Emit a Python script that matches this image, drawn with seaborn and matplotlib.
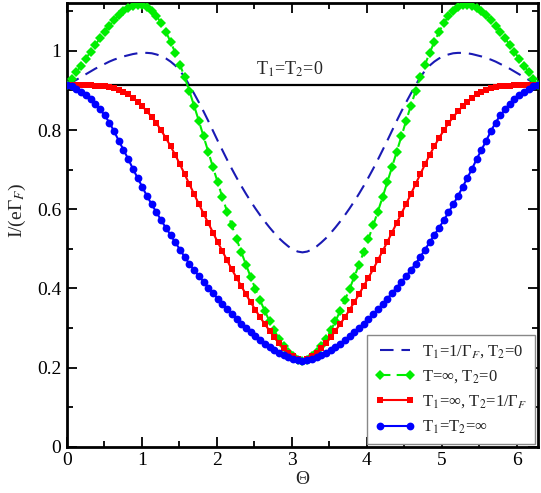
import numpy as np
import pandas as pd
import matplotlib
matplotlib.use("Agg")
import matplotlib.pyplot as plt
from matplotlib.ticker import MultipleLocator, FixedLocator
import seaborn as sns

# ---------------- data ----------------
theta_max = 2 * np.pi

zero_T_level = 0.913          # T1=T2=0 (horizontal line)

I_T1_inv_T2_0 = [  # dashed blue: T1=1/Gamma_F, T2=0
    0.913, 0.920, 0.927, 0.934, 0.941, 0.948, 0.955, 0.961, 0.967, 0.973,
    0.978, 0.982, 0.986, 0.989, 0.992, 0.994, 0.995, 0.995, 0.994, 0.991,
    0.987, 0.981, 0.973, 0.963, 0.950, 0.933, 0.913, 0.892, 0.870, 0.847,
    0.823, 0.798, 0.773, 0.749, 0.725, 0.702, 0.680, 0.659, 0.639, 0.620,
    0.602, 0.585, 0.569, 0.554, 0.540, 0.527, 0.516, 0.506, 0.498, 0.493,
    0.491,
    0.493, 0.498, 0.506, 0.516, 0.527, 0.540, 0.554, 0.569, 0.585, 0.602,
    0.620, 0.639, 0.659, 0.680, 0.702, 0.725, 0.749, 0.773, 0.798, 0.823,
    0.847, 0.870, 0.892, 0.913, 0.933, 0.950, 0.963, 0.973, 0.981, 0.987,
    0.991, 0.994, 0.995, 0.995, 0.994, 0.992, 0.989, 0.986, 0.982, 0.978,
    0.973, 0.967, 0.961, 0.955, 0.948, 0.941, 0.934, 0.927, 0.920, 0.913,
]

I_Tinf_T2_0 = [  # green diamonds: T=inf, T2=0
    0.913, 0.929, 0.946, 0.963, 0.980, 0.998, 1.015, 1.032, 1.049, 1.064,
    1.078, 1.090, 1.100, 1.108, 1.114, 1.117, 1.116, 1.111, 1.102, 1.088,
    1.070, 1.048, 1.023, 0.995, 0.965, 0.933, 0.898, 0.861, 0.823, 0.784,
    0.745, 0.706, 0.668, 0.630, 0.594, 0.559, 0.525, 0.492, 0.460, 0.429,
    0.399, 0.370, 0.343, 0.317, 0.294, 0.273, 0.255, 0.240, 0.229, 0.220,
    0.217,
    0.220, 0.229, 0.240, 0.255, 0.273, 0.294, 0.317, 0.343, 0.370, 0.399,
    0.429, 0.460, 0.492, 0.525, 0.559, 0.594, 0.630, 0.668, 0.706, 0.745,
    0.784, 0.823, 0.861, 0.898, 0.933, 0.965, 0.995, 1.023, 1.048, 1.070,
    1.088, 1.102, 1.111, 1.116, 1.117, 1.114, 1.108, 1.100, 1.090, 1.078,
    1.064, 1.049, 1.032, 1.015, 0.998, 0.980, 0.963, 0.946, 0.929, 0.913,
]

I_T1inf_T2_inv = [  # red squares: T1=inf, T2=1/Gamma_F
    0.913, 0.913, 0.913, 0.913, 0.913, 0.913, 0.912, 0.912, 0.911, 0.909,
    0.906, 0.902, 0.897, 0.891, 0.882, 0.871, 0.860, 0.847, 0.833, 0.817,
    0.799, 0.780, 0.759, 0.737, 0.713, 0.688, 0.663, 0.638, 0.613, 0.589,
    0.565, 0.541, 0.517, 0.494, 0.471, 0.448, 0.427, 0.406, 0.385, 0.365,
    0.346, 0.327, 0.310, 0.293, 0.277, 0.262, 0.249, 0.237, 0.228, 0.221,
    0.217,
    0.221, 0.228, 0.237, 0.249, 0.262, 0.277, 0.293, 0.310, 0.327, 0.346,
    0.365, 0.385, 0.406, 0.427, 0.448, 0.471, 0.494, 0.517, 0.541, 0.565,
    0.589, 0.613, 0.638, 0.663, 0.688, 0.713, 0.737, 0.759, 0.780, 0.799,
    0.817, 0.833, 0.847, 0.860, 0.871, 0.882, 0.891, 0.897, 0.902, 0.906,
    0.909, 0.911, 0.912, 0.912, 0.913, 0.913, 0.913, 0.913, 0.913, 0.913,
]

I_T1T2_inf = [  # blue circles: T1=T2=inf
    0.913, 0.911, 0.905, 0.897, 0.888, 0.878, 0.867, 0.852, 0.837, 0.819,
    0.797, 0.773, 0.750, 0.727, 0.702, 0.679, 0.656, 0.633, 0.612, 0.592,
    0.572, 0.553, 0.535, 0.516, 0.498, 0.479, 0.462, 0.446, 0.431, 0.417,
    0.402, 0.388, 0.374, 0.360, 0.347, 0.335, 0.323, 0.311, 0.300, 0.289,
    0.279, 0.269, 0.260, 0.252, 0.244, 0.237, 0.231, 0.226, 0.222, 0.219,
    0.217,
    0.219, 0.222, 0.226, 0.231, 0.237, 0.244, 0.252, 0.260, 0.269, 0.279,
    0.289, 0.300, 0.311, 0.323, 0.335, 0.347, 0.360, 0.374, 0.388, 0.402,
    0.417, 0.431, 0.446, 0.462, 0.479, 0.498, 0.516, 0.535, 0.553, 0.572,
    0.592, 0.612, 0.633, 0.656, 0.679, 0.702, 0.727, 0.750, 0.773, 0.797,
    0.819, 0.837, 0.852, 0.867, 0.878, 0.888, 0.897, 0.905, 0.911, 0.913,
]

labels = [
    "T$_1$=1/Γ$_F$, T$_2$=0",
    "T=∞, T$_2$=0",
    "T$_1$=∞, T$_2$=1/Γ$_F$",
    "T$_1$=T$_2$=∞",
]
zero_label = "T$_1$=T$_2$=0"
x_ticks = [0, 1, 2, 3, 4, 5, 6]
y_ticks = [0, 0.2, 0.4, 0.6, 0.8, 1.0]
y_tick_labels = ["0", "0.2", "0.4", "0.6", "0.8", "1"]

# ---------------- style ----------------
sns.set_style("ticks")
plt.rcParams["font.family"] = ["Liberation Serif", "DejaVu Serif"]
plt.rcParams["mathtext.fontset"] = "stix"

fig = plt.figure(figsize=(5.41, 4.93), dpi=100)
ax = fig.add_axes([0.1238, 0.0939, 0.8706, 0.900])

def theta_for(vals):
    return np.linspace(0, theta_max, len(vals))

# horizontal T1=T2=0 line
sns.lineplot(x=[0, theta_max], y=[zero_T_level, zero_T_level], ax=ax,
             color="black", linewidth=1.6, legend=False, zorder=2)

series = [
    (I_T1_inv_T2_0, dict(color="#1a1ab4", linestyle=(0, (6.5, 3.8)), linewidth=1.5,
                         marker=None)),
    (I_Tinf_T2_0, dict(color="#00ee00", linestyle=(0, (5, 3)), linewidth=1.5,
                       marker="D", markersize=5.0, markeredgewidth=0)),
    (I_T1inf_T2_inv, dict(color="#ff0000", linestyle="-", linewidth=1.5,
                          marker="s", markersize=4.6, markeredgewidth=0)),
    (I_T1T2_inf, dict(color="#0000ff", linestyle="-", linewidth=1.5,
                      marker="o", markersize=5.6, markeredgewidth=0)),
]

for (vals, kw), lab in zip(series, labels):
    df = pd.DataFrame({"theta": theta_for(vals), "I": vals})
    sns.lineplot(data=df, x="theta", y="I", ax=ax, label=lab,
                 estimator=None, sort=False, zorder=3, **kw)

ax.text(2.97, 0.928, zero_label, ha="center", va="bottom", fontsize=13)

# ---------------- axes ----------------
ax.set_xlim(0, theta_max)
ax.set_ylim(0, 1.121)
ax.xaxis.set_major_locator(FixedLocator(x_ticks))
ax.xaxis.set_minor_locator(MultipleLocator(0.5))
ax.set_yticks(y_ticks)
ax.set_yticklabels(y_tick_labels)
ax.yaxis.set_minor_locator(MultipleLocator(0.1))
ax.tick_params(which="both", direction="in", top=True, right=True,
               labelsize=14, width=1.3, colors="black")
ax.tick_params(which="major", length=7, pad=4)
ax.tick_params(which="minor", length=4)
for s in ax.spines.values():
    s.set_linewidth(2.0)
    s.set_color("black")

ax.set_xlabel("Θ", fontsize=14, labelpad=1)
ax.set_ylabel("I/(eΓ$_F$)", fontsize=14, labelpad=2)
ax.yaxis.set_label_coords(-0.082, 0.533)

handles, labs = ax.get_legend_handles_labels()
leg = ax.legend(handles, labs, loc="lower right", numpoints=2,
                fontsize=12, frameon=True, fancybox=False,
                edgecolor="#888888", framealpha=1, borderaxespad=0.15,
                handlelength=2.4, handletextpad=0.4, labelspacing=0.5,
                borderpad=0.5)
leg.get_frame().set_linewidth(1.0)

fig.savefig("out.png", dpi=100)
